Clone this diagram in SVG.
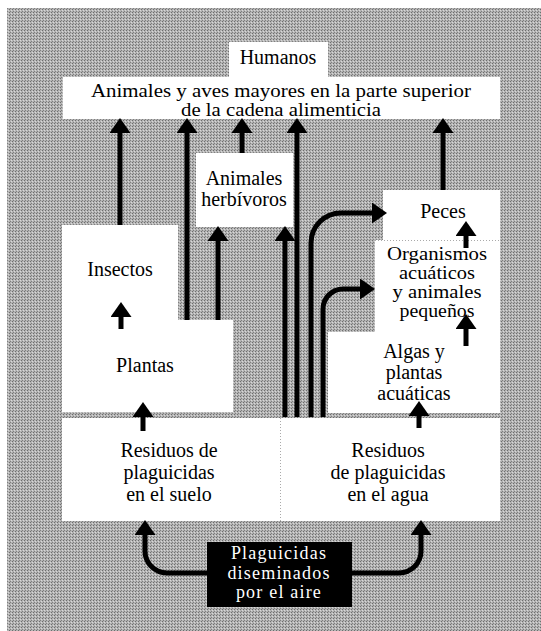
<svg xmlns="http://www.w3.org/2000/svg" width="541" height="631" viewBox="0 0 541 631">
<defs>
<pattern id="ht" width="3" height="3" patternUnits="userSpaceOnUse">
<rect width="3" height="3" fill="#b4b4b4"/>
<rect x="0" y="0" width="1" height="1" fill="#6e6e6e"/>
<rect x="2" y="1" width="1" height="1" fill="#d8d8d8"/>
<rect x="1" y="2" width="1" height="1" fill="#808080"/>
</pattern>
<marker id="ah" markerUnits="userSpaceOnUse" markerWidth="15" markerHeight="21" viewBox="0 0 15 21" refX="2" refY="10.5" orient="auto">
<path d="M0,0 L15,10.5 L0,21 Z" fill="#000"/>
</marker>
</defs>
<style>
.box{fill:#fff}
.t{font-family:"Liberation Serif","Times New Roman",serif;font-size:20px;fill:#000;text-anchor:middle}
.o{font-size:18.5px}
.tw{font-family:"Liberation Serif","Times New Roman",serif;font-size:18px;fill:#fff;text-anchor:middle;letter-spacing:1.2px}
.c{fill:none;stroke:#000;stroke-width:5;marker-end:url(#ah)}
.dot{stroke:#aaa;stroke-width:1;stroke-dasharray:1 2;fill:none}
</style>
<rect x="0" y="0" width="541" height="631" fill="#fff"/>
<rect x="7" y="8" width="534" height="623" fill="url(#ht)"/>

<g id="humanos">
<rect class="box" x="229" y="42" width="99" height="36"/>
<text class="t" x="278" y="64">Humanos</text>
</g>
<g id="superiores">
<rect class="box" x="63" y="77" width="437" height="42"/>
<text class="t" x="281" y="97" style="font-size:18px" textLength="380" lengthAdjust="spacingAndGlyphs">Animales y aves mayores en la parte superior</text>
<text class="t" x="281" y="116" style="font-size:18px" textLength="200" lengthAdjust="spacingAndGlyphs">de la cadena alimenticia</text>
</g>
<g id="herbivoros">
<rect class="box" x="196" y="153" width="97" height="74"/>
<text class="t" x="244" y="185">Animales</text>
<text class="t" x="244" y="206">herbívoros</text>
</g>
<g id="insectos-plantas">
<path class="box" d="M62,225 H178 V320 H233 V412 H62 Z"/>
<text class="t" x="120" y="276">Insectos</text>
<text class="t" x="145" y="372">Plantas</text>
</g>
<g id="peces">
<rect class="box" x="383" y="190" width="117" height="51"/>
<text class="t" x="443" y="218">Peces</text>
</g>
<g id="organismos">
<rect class="box" x="375" y="240" width="125" height="93"/>
<line class="dot" x1="375" y1="240.5" x2="500" y2="240.5"/>
<text class="t o" x="437" y="260" textLength="100" lengthAdjust="spacingAndGlyphs">Organismos</text>
<text class="t o" x="437" y="279" textLength="76" lengthAdjust="spacingAndGlyphs">acuáticos</text>
<text class="t o" x="437" y="298" textLength="89" lengthAdjust="spacingAndGlyphs">y animales</text>
<text class="t o" x="437" y="317" textLength="75" lengthAdjust="spacingAndGlyphs">pequeños</text>
</g>
<g id="algas">
<rect class="box" x="328" y="332" width="172" height="81"/>
<text class="t" x="414" y="358">Algas y</text>
<text class="t" x="414" y="379">plantas</text>
<text class="t" x="414" y="400">acuáticas</text>
</g>
<g id="residuos-suelo">
<rect class="box" x="62" y="418" width="218" height="103"/>
<text class="t" x="169" y="457">Residuos de</text>
<text class="t" x="169" y="479">plaguicidas</text>
<text class="t" x="169" y="501">en el suelo</text>
</g>
<g id="residuos-agua">
<rect class="box" x="280" y="418" width="220" height="103"/>
<line class="dot" x1="280.5" y1="418" x2="280.5" y2="521"/>
<text class="t" x="388" y="457">Residuos</text>
<text class="t" x="388" y="479">de plaguicidas</text>
<text class="t" x="388" y="501">en el agua</text>
</g>
<g id="plaguicidas-aire">
<rect x="207" y="542" width="145" height="65" fill="#000"/>
<text class="tw" x="279" y="559">Plaguicidas</text>
<text class="tw" x="279" y="579">diseminados</text>
<text class="tw" x="279" y="598">por el aire</text>
</g>

<g id="connectors">
<path class="c" d="M120,225 V131"/>
<path class="c" d="M187,320 V131"/>
<path class="c" d="M242,153 V131"/>
<path class="c" d="M297,417 V131"/>
<path class="c" d="M443,190 V131"/>
<path class="c" d="M218,320 V239"/>
<path class="c" d="M285,417 V239"/>
<path class="c" d="M311,417 V243 A30,30 0 0 1 341,213 H374"/>
<path class="c" d="M323,417 V309 A20,20 0 0 1 343,289 H362"/>
<path class="c" d="M466,248 V234"/>
<path class="c" d="M466,346 V327"/>
<path class="c" d="M121,329 V315"/>
<path class="c" d="M143,431 V415"/>
<path class="c" d="M419,428 V414"/>
<path class="c" d="M207,573 H167 A22,22 0 0 1 145,551 V533"/>
<path class="c" d="M352,573 H399 A22,22 0 0 0 421,551 V533"/>
</g>
</svg>
